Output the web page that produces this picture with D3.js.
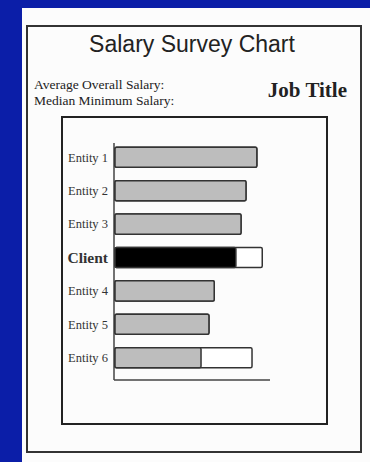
<!DOCTYPE html>
<html>
<head>
<meta charset="utf-8">
<script src="https://cdn.jsdelivr.net/npm/d3@7"></script>
<style>
  html, body { margin: 0; padding: 0; background: #0b1ea8; }
  svg { display: block; }
</style>
</head>
<body>
<svg id="chart"></svg>
<script>
// chart data
const entities = ["Entity 1", "Entity 2", "Entity 3", "Client", "Entity 4", "Entity 5", "Entity 6"];
const minSalary = [91.5, 84.5, 81.3, 78, 64, 60.6, 55.5];
const maxSalary = [91.5, 84.5, 81.3, 95, 64, 60.6, 88.4];
const highlight = "Client";

const W = 370, H = 462;
const serif = "Liberation Serif, Times New Roman, serif";
const svg = d3.select("#chart").attr("width", W).attr("height", H);

// white page
svg.append("rect").attr("x", 22).attr("y", 8).attr("width", W - 22).attr("height", H - 8).attr("fill", "#fcfcfc");

// outer frame
svg.append("rect")
  .attr("x", 27).attr("y", 26).attr("width", 334).attr("height", 426)
  .attr("fill", "none").attr("stroke", "#333").attr("stroke-width", 2);

svg.append("text")
  .attr("x", 192).attr("y", 52)
  .attr("text-anchor", "middle")
  .style("font-family", "Liberation Sans, Arial, sans-serif")
  .style("font-size", "23px")
  .attr("fill", "#222")
  .text("Salary Survey Chart");

svg.append("text")
  .attr("x", 34).attr("y", 89)
  .style("font-family", serif)
  .style("font-size", "13.5px")
  .attr("fill", "#222")
  .text("Average Overall Salary:");

svg.append("text")
  .attr("x", 34).attr("y", 105)
  .style("font-family", serif)
  .style("font-size", "13.5px")
  .attr("fill", "#222")
  .text("Median Minimum Salary:");

svg.append("text")
  .attr("x", 347).attr("y", 97)
  .attr("text-anchor", "end")
  .style("font-family", serif)
  .style("font-size", "21px")
  .style("font-weight", "bold")
  .attr("fill", "#222")
  .text("Job Title");

// inner frame
svg.append("rect")
  .attr("x", 62).attr("y", 117).attr("width", 265).attr("height", 307)
  .attr("fill", "none").attr("stroke", "#222").attr("stroke-width", 2);

const x = d3.scaleLinear().domain([0, 100]).range([115, 270]);
const y = d3.scaleBand().domain(entities).range([144, 371]).paddingInner(0.4).paddingOuter(0.1);

// axis lines
svg.append("line")
  .attr("x1", 114).attr("x2", 114).attr("y1", 143).attr("y2", 380)
  .attr("stroke", "#444").attr("stroke-width", 1.5);
svg.append("line")
  .attr("x1", 114).attr("x2", x(100)).attr("y1", 380).attr("y2", 380)
  .attr("stroke", "#444").attr("stroke-width", 1.5);

const rows = entities.map((e, i) => ({ name: e, min: minSalary[i], max: maxSalary[i] }));

const g = svg.append("g");

// full range (white part)
g.selectAll(".range")
  .data(rows)
  .join("rect")
  .attr("class", "range")
  .attr("x", x(0))
  .attr("y", d => y(d.name))
  .attr("width", d => x(d.max) - x(0))
  .attr("height", y.bandwidth())
  .attr("rx", 1.5)
  .attr("fill", "#fff")
  .attr("stroke", "#333")
  .attr("stroke-width", 1.5);

// min part
g.selectAll(".bar")
  .data(rows)
  .join("rect")
  .attr("class", "bar")
  .attr("x", x(0))
  .attr("y", d => y(d.name))
  .attr("width", d => x(d.min) - x(0))
  .attr("height", y.bandwidth())
  .attr("rx", 1.5)
  .attr("fill", d => d.name === highlight ? "#000" : "#bdbdbd")
  .attr("stroke", "#333")
  .attr("stroke-width", 1.5);

// category labels
g.selectAll(".lbl")
  .data(rows)
  .join("text")
  .attr("class", "lbl")
  .attr("x", 108)
  .attr("y", d => y(d.name) + y.bandwidth() / 2)
  .attr("dy", "0.35em")
  .attr("text-anchor", "end")
  .style("font-family", serif)
  .style("font-size", d => d.name === highlight ? "15.5px" : "12.5px")
  .style("font-weight", d => d.name === highlight ? "bold" : "normal")
  .attr("fill", "#333")
  .text(d => d.name);
</script>
</body>
</html>
